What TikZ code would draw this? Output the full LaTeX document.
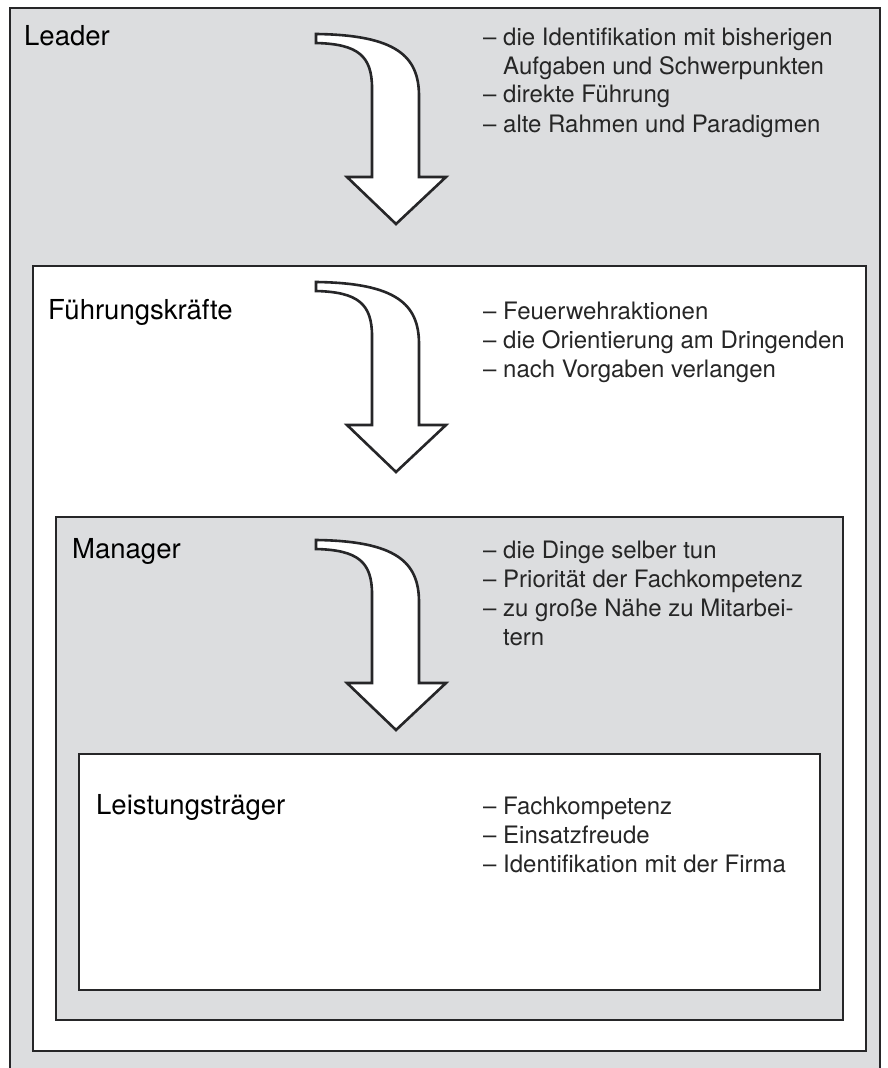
\documentclass[tikz,border=0pt]{standalone}
\usepackage{fontspec}
\setmainfont{TeX Gyre Heros}
\usetikzlibrary{positioning}
\definecolor{PanelGray}{RGB}{220, 221, 223}
\definecolor{LineDark}{RGB}{38, 38, 40}
\newcommand{\pointlist}[1]{\begin{tabular}[t]{@{}l@{}}#1\end{tabular}}

\tikzset{
  panel/.style={draw=LineDark, line width=1.6pt},
  level/.style={anchor=base west, inner sep=0pt, font=\fontsize{27.5}{30}\selectfont},
  points/.style={anchor=base west, inner sep=0pt, text=black!85,
    font=\fontsize{24}{29}\selectfont},
  bendarrow/.pic={
    \draw[fill=white, draw=LineDark, line width=2.6pt, line join=miter]
      (0,0) -- (-49,-47) -- (-24,-47) -- (-24,-136)
      .. controls (-24,-168) and (-38,-180) .. (-80,-181)
      -- (-80,-190)
      .. controls (0,-189) and (23,-168) .. (23,-128)
      -- (23,-47) -- (50,-47) -- cycle;
  }
}

\begin{document}
\begin{tikzpicture}[x=1pt, y=-1pt]
  \useasboundingbox (0,0) rectangle (888,1068);

  % nested frames
  \fill[PanelGray] (10,8) rectangle (880,1068);
  \draw[panel] (10,1068) -- (10,8) -- (880,8) -- (880,1068);
  \draw[panel, fill=white] (33,266) rectangle (866,1051);
  \draw[panel, fill=PanelGray] (56,517) rectangle (843,1020);
  \draw[panel, fill=white] (79,754) rectangle (820,990);

  % Leader
  \node[level] (leader) at (24,45) {Leader};
  \pic at (396,224) {bendarrow};
  \node[points] (leaderlist) at (483,45)
    {\pointlist{– die Identifikation mit bisherigen\\\phantom{– }Aufgaben und Schwerpunkten\\– direkte Führung\\– alte Rahmen und Paradigmen}};

  % Fuehrungskraefte
  \node[level] (fuehrung) at (48,319) {Führungskräfte};
  \pic at (396,472) {bendarrow};
  \node[points] (fuehrunglist) at (483,319)
    {\pointlist{– Feuerwehraktionen\\– die Orientierung am Dringenden\\– nach Vorgaben verlangen}};

  % Manager
  \node[level] (manager) at (72,558) {Manager};
  \pic at (396,730) {bendarrow};
  \node[points] (managerlist) at (483,558)
    {\pointlist{– die Dinge selber tun\\– Priorität der Fachkompetenz\\– zu große Nähe zu Mitarbei-\\\phantom{– }tern}};

  % Leistungstraeger
  \node[level] (leistung) at (96,814) {Leistungsträger};
  \node[points] (leistunglist) at (483,814)
    {\pointlist{– Fachkompetenz\\– Einsatzfreude\\– Identifikation mit der Firma}};
\end{tikzpicture}
\end{document}
